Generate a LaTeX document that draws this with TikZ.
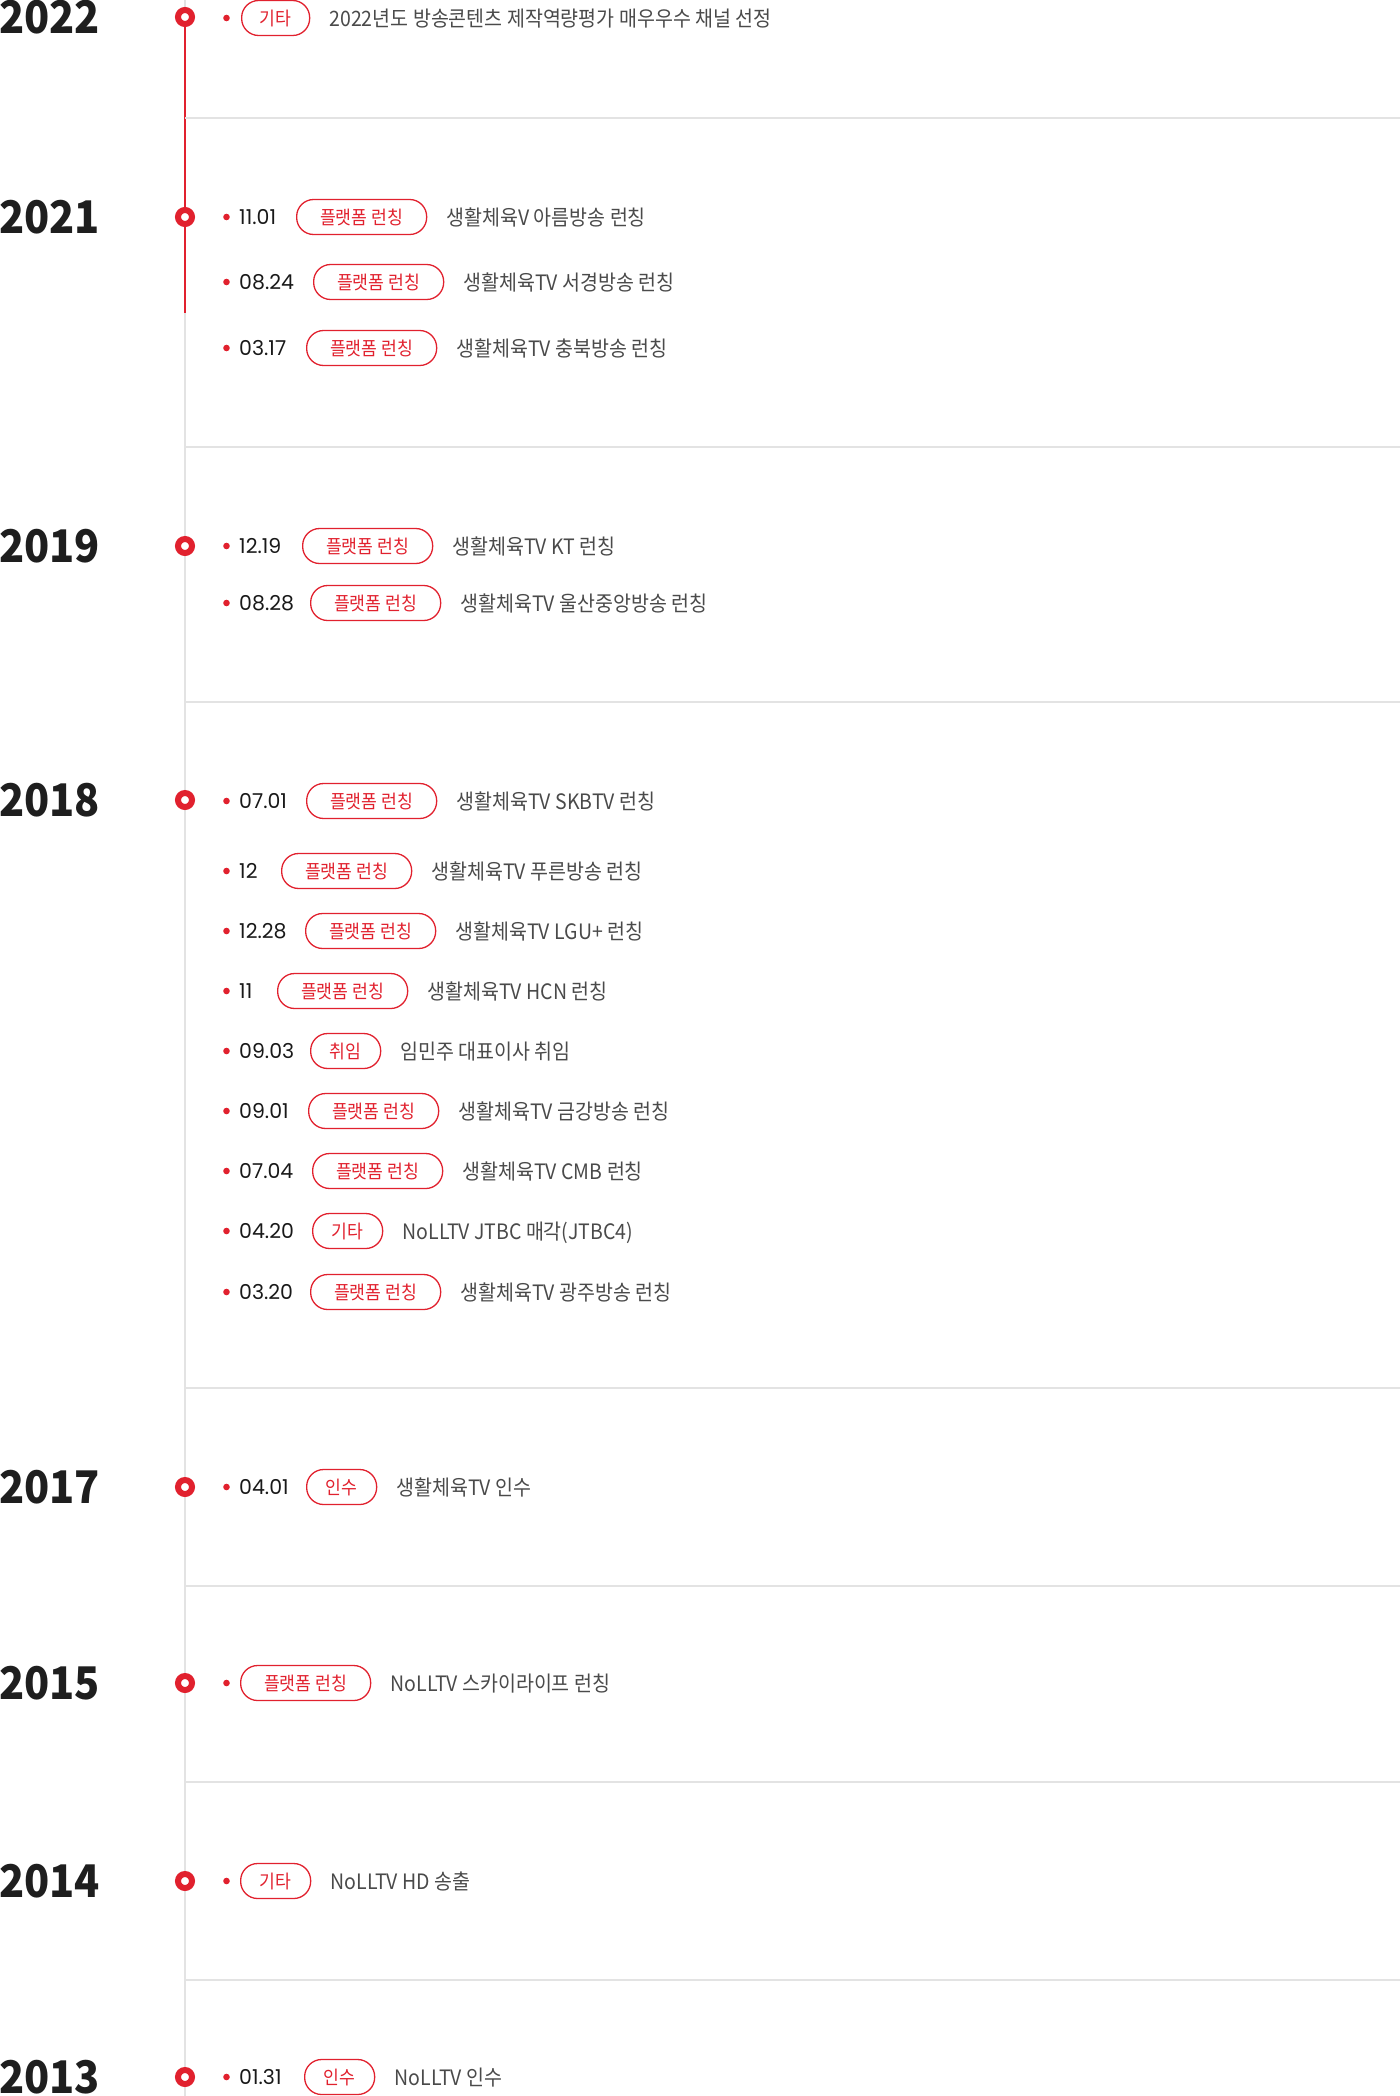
\documentclass[tikz,border=0pt]{standalone}
\usepackage{fontspec}
\setmainfont{Noto Sans CJK KR}
\newfontfamily\krfont{Noto Sans CJK KR}[FakeStretch=0.92]
\newfontfamily\datefont{Poppins}
\usetikzlibrary{positioning}

\definecolor{tlred}{HTML}{E1212E}
\definecolor{tlgray}{HTML}{E3E3E3}
\definecolor{tltext}{HTML}{4A4A4A}
\definecolor{tldark}{HTML}{1E1E1E}

\tikzset{
  year/.style={anchor=west, inner sep=0pt, text=tldark, text height=33.7pt, text depth=0pt,
    font=\krfont\bfseries\fontsize{45}{45}\selectfont},
  ring/.style={circle, draw=tlred, fill=white, line width=6pt, minimum size=14pt, inner sep=0pt},
  bul/.style={circle, fill=tlred, minimum size=6.6pt, inner sep=0pt},
  datetxt/.style={anchor=west, inner sep=0pt, text=black!90, text height=14.3pt, text depth=0pt,
    font=\datefont\fontsize{20.5}{20.5}\selectfont},
  tagbox/.style={anchor=west, draw=tlred, text=tlred, line width=1.3pt, rounded corners=17pt,
    minimum height=35pt, inner sep=0pt, text height=14.2pt, text depth=0pt,
    font=\krfont\fontsize{18.7}{18.7}\selectfont},
  desc/.style={inner sep=0pt, text=tltext, text height=16.1pt, text depth=0pt,
    font=\krfont\fontsize{21.2}{21.2}\selectfont},
  axis/.style={draw=tlgray, line width=1.2pt},
  sep/.style={draw=tlgray, line width=1.5pt},
}

\begin{document}
\begin{tikzpicture}[x=1pt, y=-1pt]
  \useasboundingbox (0,0) rectangle (1400,2096);

  % timeline and section rules
  \coordinate (axtop) at (185,0);
  \coordinate (axbot) at (185,2096);
  \coordinate (redtop) at (185,17);
  \coordinate (redend) at (185,313);
  \draw[axis] (axtop) -- (axbot);
  \draw[tlred, line width=1.5pt] (redtop) -- (redend);
  \foreach \y in {118,447,702,1388,1586,1782,1980}
    \draw[sep] (185,\y) -- (1400,\y);

  % years
  \foreach \y/\yr in {17/2022, 217/2021, 546/2019, 800/2018, 1487/2017, 1683/2015, 1881/2014, 2077/2013} {
    \node[year] (y\yr) at (-1,\y) {\yr};
    \node[ring] (r\yr) at (185,\y) {};
  }

  % entries
  \foreach \y/\dt/\tx/\tw/\tg/\ds [count=\i] in {
    18//241/68/기타/2022년도 방송콘텐츠 제작역량평가 매우우수 채널 선정,
    217/11.01/296/130/플랫폼 런칭/생활체육V 아름방송 런칭,
    282/08.24/313/130/플랫폼 런칭/생활체육TV 서경방송 런칭,
    348/03.17/306/130/플랫폼 런칭/생활체육TV 충북방송 런칭,
    546/12.19/302/130/플랫폼 런칭/생활체육TV KT 런칭,
    603/08.28/310/130/플랫폼 런칭/생활체육TV 울산중앙방송 런칭,
    801/07.01/306/130/플랫폼 런칭/생활체육TV SKBTV 런칭,
    871/12/281/130/플랫폼 런칭/생활체육TV 푸른방송 런칭,
    931/12.28/305/130/플랫폼 런칭/생활체육TV LGU+ 런칭,
    991/11/277/130/플랫폼 런칭/생활체육TV HCN 런칭,
    1051/09.03/310/70/취임/임민주 대표이사 취임,
    1111/09.01/308/130/플랫폼 런칭/생활체육TV 금강방송 런칭,
    1171/07.04/312/130/플랫폼 런칭/생활체육TV CMB 런칭,
    1231/04.20/312/70/기타/NoLLTV JTBC 매각(JTBC4),
    1292/03.20/310/130/플랫폼 런칭/생활체육TV 광주방송 런칭,
    1487/04.01/306/70/인수/생활체육TV 인수,
    1683//240/130/플랫폼 런칭/NoLLTV 스카이라이프 런칭,
    1881//240/70/기타/NoLLTV HD 송출,
    2077/01.31/304/70/인수/NoLLTV 인수} {
    \node[bul] (b\i) at (226.5,\y) {};
    \ifx\dt\empty\else
      \node[datetxt] (d\i) at (239,\y) {\dt};
    \fi
    \node[tagbox, minimum width=\tw pt] (t\i) at (\tx,\y) {\tg};
    \node[desc, right=19pt of t\i] (s\i) {\ds};
  }
\end{tikzpicture}
\end{document}
